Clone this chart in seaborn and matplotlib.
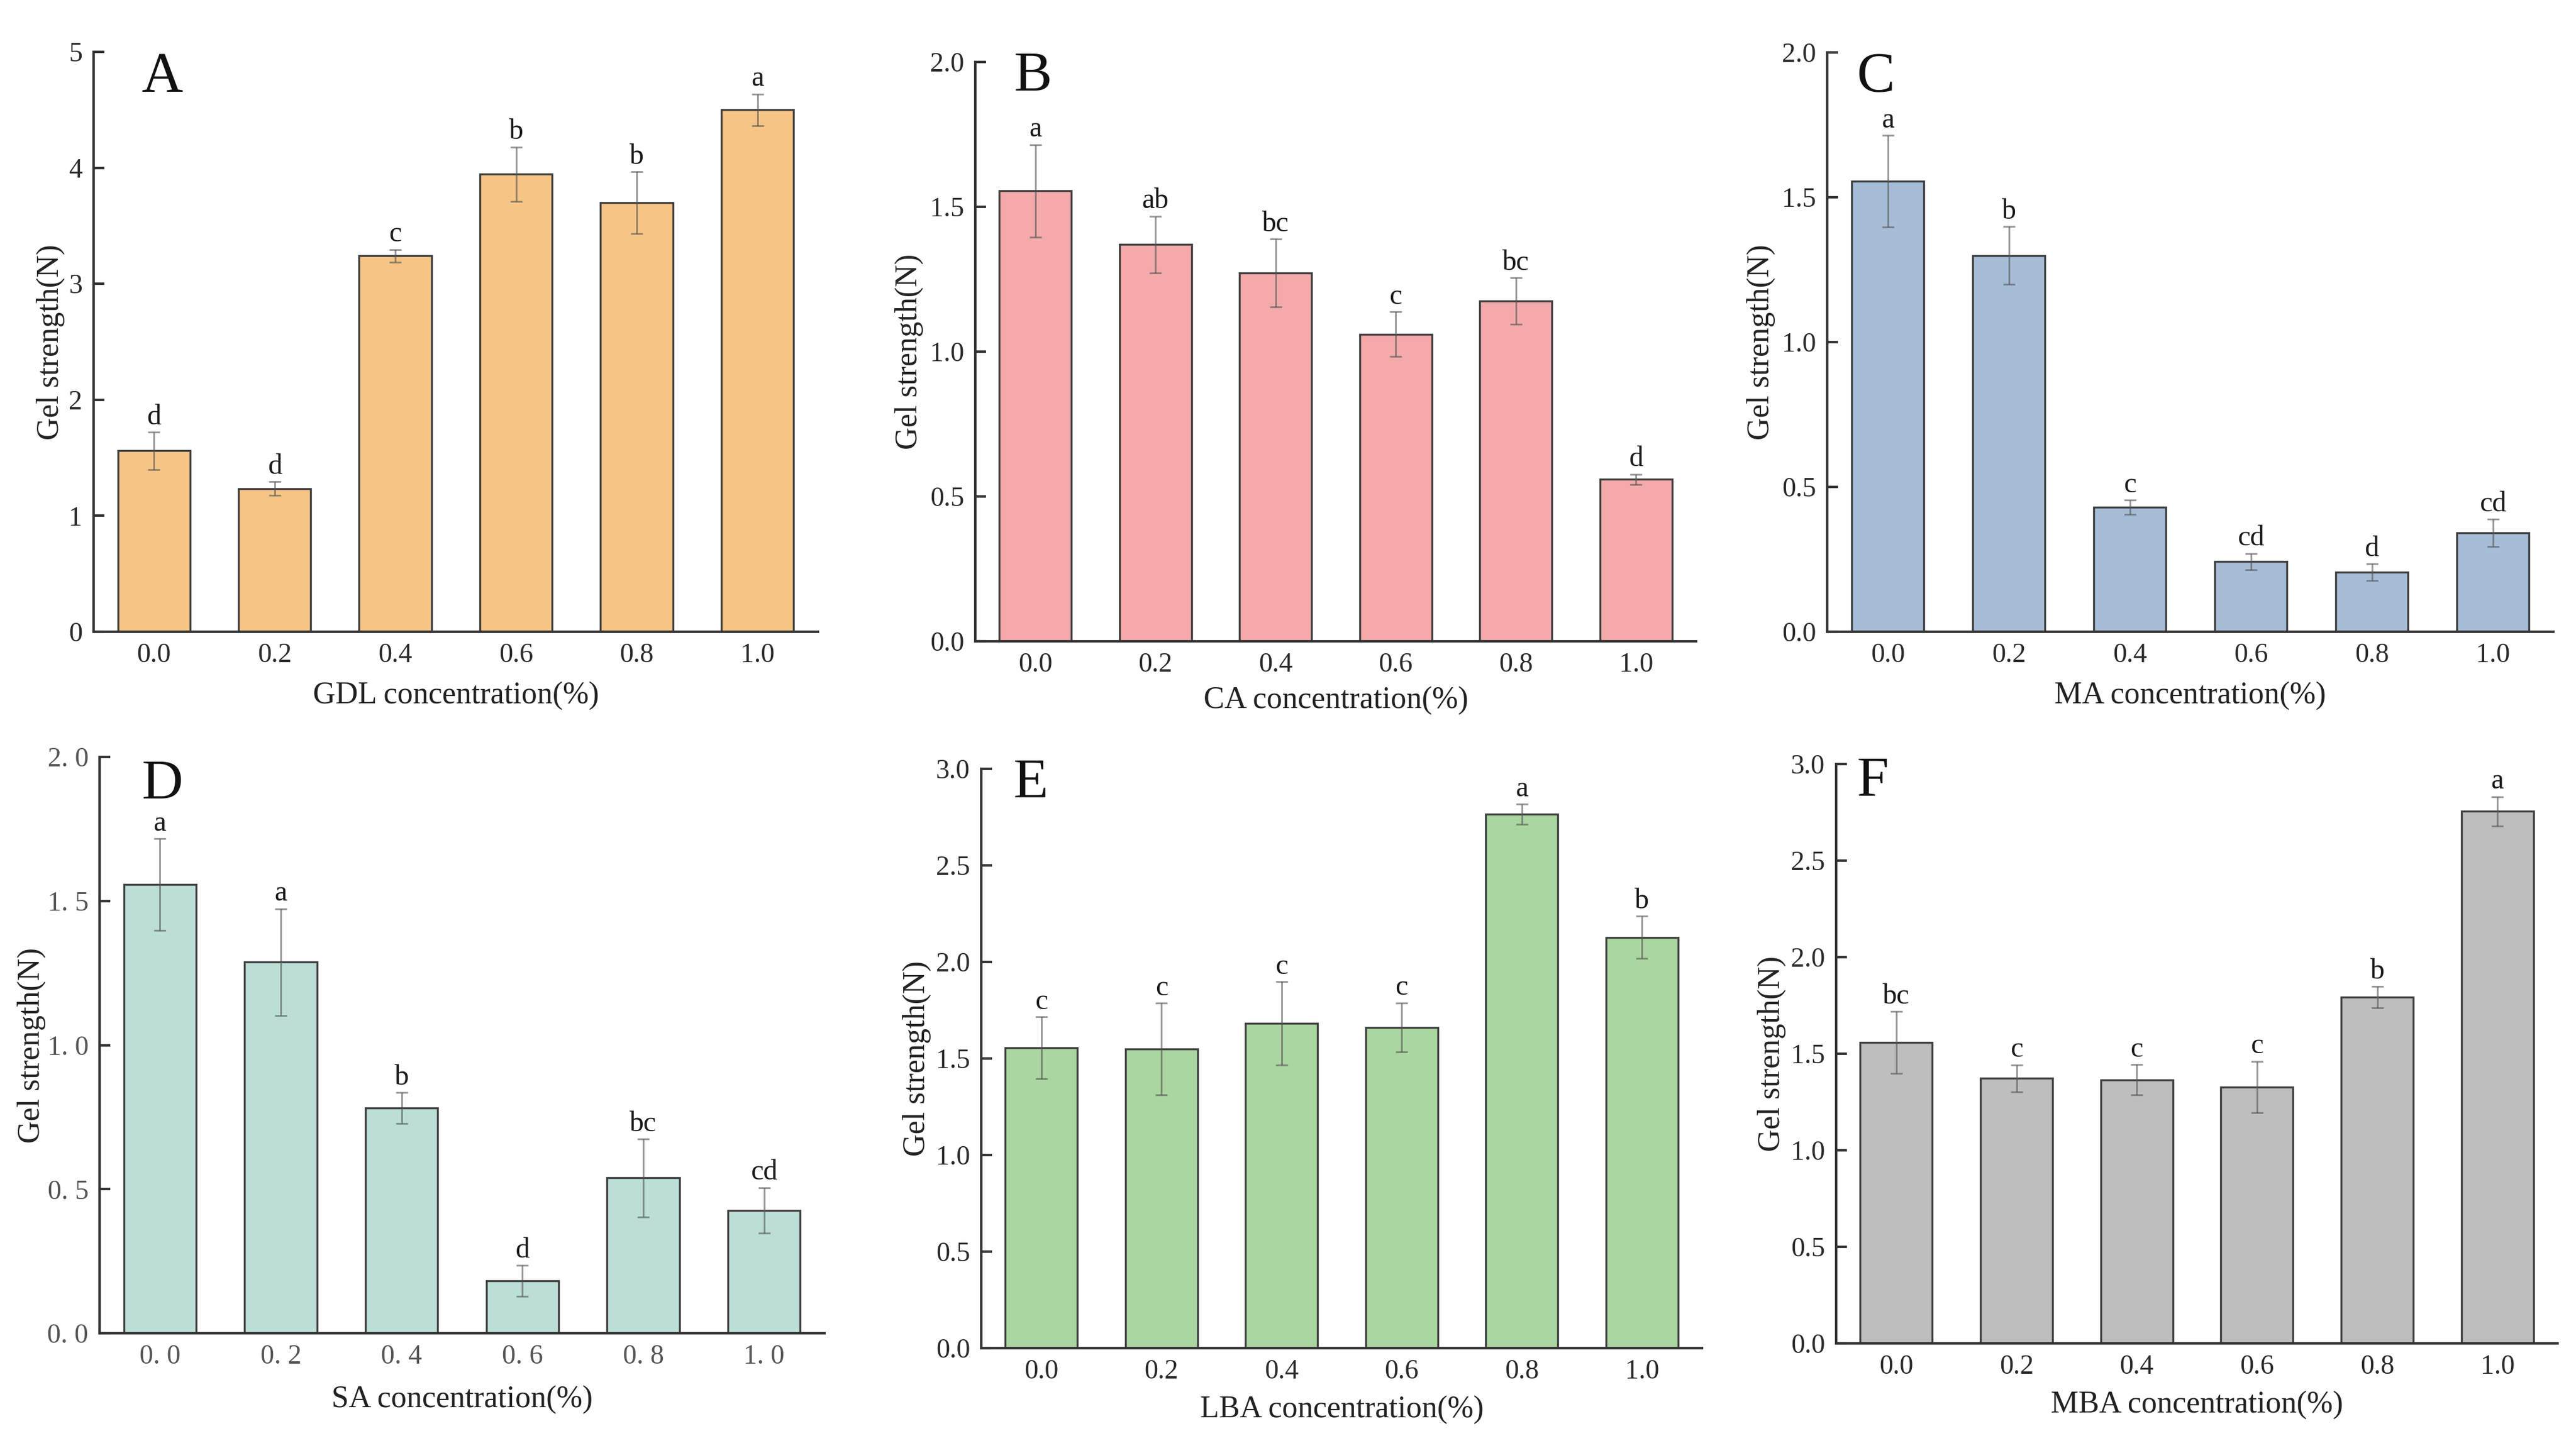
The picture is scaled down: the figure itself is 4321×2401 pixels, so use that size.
import numpy as np
import pandas as pd
import matplotlib
matplotlib.use("Agg")
import matplotlib.pyplot as plt
import seaborn as sns

# ---------------- data ----------------
conc = ["0.0", "0.2", "0.4", "0.6", "0.8", "1.0"]

gdl_vals = [1.56, 1.235, 3.24, 3.945, 3.70, 4.50]
gdl_err = [0.16, 0.06, 0.055, 0.235, 0.265, 0.137]
gdl_sig = ["d", "d", "c", "b", "b", "a"]

ca_vals = [1.555, 1.370, 1.272, 1.060, 1.175, 0.559]
ca_err = [0.16, 0.098, 0.117, 0.077, 0.08, 0.018]
ca_sig = ["a", "ab", "bc", "c", "bc", "d"]

ma_vals = [1.556, 1.299, 0.430, 0.242, 0.205, 0.342]
ma_err = [0.158, 0.10, 0.025, 0.028, 0.029, 0.047]
ma_sig = ["a", "b", "c", "cd", "d", "cd"]

sa_vals = [1.557, 1.288, 0.782, 0.182, 0.539, 0.426]
sa_err = [0.159, 0.185, 0.053, 0.053, 0.135, 0.079]
sa_sig = ["a", "a", "b", "d", "bc", "cd"]

lba_vals = [1.555, 1.550, 1.682, 1.661, 2.765, 2.128]
lba_err = [0.16, 0.237, 0.215, 0.127, 0.053, 0.11]
lba_sig = ["c", "c", "c", "c", "a", "b"]

mba_vals = [1.558, 1.372, 1.365, 1.327, 1.793, 2.755]
mba_err = [0.16, 0.07, 0.079, 0.134, 0.056, 0.076]
mba_sig = ["bc", "c", "c", "c", "b", "a"]

panel_letters = ["A", "B", "C", "D", "E", "F"]
xlabels = ["GDL concentration(%)", "CA concentration(%)", "MA concentration(%)",
           "SA concentration(%)", "LBA concentration(%)", "MBA concentration(%)"]
ylabel = "Gel strength(N)"
colors = ["#F6C585", "#F4AAAB", "#A6BDD7", "#BBDFD6", "#AAD6A0", "#BEBEBE"]

y_max = [5, 2.0, 2.0, 2.0, 3.0, 3.0]
y_step = [1, 0.5, 0.5, 0.5, 0.5, 0.5]

# ---------------- style ----------------
sns.set_theme(style="ticks")
plt.rcParams["font.family"] = ["Liberation Serif", "DejaVu Serif"]
plt.rcParams["axes.linewidth"] = 1.0
plt.rcParams["axes.edgecolor"] = "#333333"

W, H = 4321, 2401
fig = plt.figure(figsize=(W / 300, H / 300), dpi=300)

# axes boxes in pixels: (left, top, right, bottom)
boxes_px = [
    (157, 87, 1372, 1060),
    (1636, 104, 2845, 1076),
    (3065, 88, 4283, 1060),
    (167, 1270, 1383, 2237),
    (1646, 1290, 2855, 2262),
    (3080, 1282, 4290, 2254),
]
letter_pos = [(0.066, 0.999), (0.053, 1.0175), (0.040, 1.0), (0.058, 0.996),
              (0.044, 1.0186), (0.028, 1.013)]
xlabel_pad = [5.5, 3.5, 5.5, 6.5, 4.5, 4.5]
ylabel_pad = [1.5, 2.5, 2.5, 0.5, 2.0, 2.0]

datasets = [
    (gdl_vals, gdl_err, gdl_sig),
    (ca_vals, ca_err, ca_sig),
    (ma_vals, ma_err, ma_sig),
    (sa_vals, sa_err, sa_sig),
    (lba_vals, lba_err, lba_sig),
    (mba_vals, mba_err, mba_sig),
]

for i, (box, (vals, errs, sigs)) in enumerate(zip(boxes_px, datasets)):
    l, t, r, b = box
    ax = fig.add_axes((l / W, 1 - b / H, (r - l) / W, (b - t) / H))
    df = pd.DataFrame({"conc": conc, "val": vals})
    sns.barplot(data=df, x="conc", y="val", ax=ax, color=colors[i],
                width=0.6, edgecolor="#404040", linewidth=0.8, errorbar=None,
                saturation=1)
    centers = [p.get_x() + p.get_width() / 2 for p in ax.patches]
    ax.errorbar(centers, vals, yerr=errs, fmt="none", ecolor="#555555",
                alpha=0.6, elinewidth=0.7, capsize=2.3, capthick=0.7, zorder=3)
    for cx, v, e, s in zip(centers, vals, errs, sigs):
        ax.annotate(s, (cx, v + e), xytext=(0, 0.8), textcoords="offset points",
                    ha="center", va="bottom", fontsize=11.5, color="#1a1a1a")

    ax.set_xlim(-0.5, 5.5)
    ax.set_ylim(0, y_max[i])
    ticks = np.arange(0, y_max[i] + 1e-9, y_step[i])
    ax.set_yticks(ticks)
    tick_color = "#2a2a2a"
    if i == 0:
        ax.set_yticklabels([f"{tk:.0f}" for tk in ticks])
    elif i == 3:
        ax.set_yticklabels([f"{tk:.1f}".replace(".", ". ") for tk in ticks])
        ax.set_xticks(range(6))
        ax.set_xticklabels([c.replace(".", ". ") for c in conc])
        tick_color = "#555555"
    else:
        ax.set_yticklabels([f"{tk:.1f}" for tk in ticks])

    ax.tick_params(axis="y", direction="in", length=4.2, width=1.0,
                   labelsize=11, colors="#333333", labelcolor=tick_color, pad=4.5)
    ax.tick_params(axis="x", direction="in", length=4, width=1.0,
                   labelsize=11, colors="#333333", labelcolor=tick_color, pad=4.5)
    sns.despine(ax=ax)
    ax.set_xlabel(xlabels[i], fontsize=12.5, color="#222222", labelpad=xlabel_pad[i])
    ax.set_ylabel(ylabel, fontsize=12.5, color="#222222", labelpad=ylabel_pad[i])
    lx, ly = letter_pos[i]
    ax.text(lx, ly, panel_letters[i], transform=ax.transAxes,
            ha="left", va="top", fontsize=23, color="#111111")

fig.savefig("out.png", dpi=300, facecolor="white")
